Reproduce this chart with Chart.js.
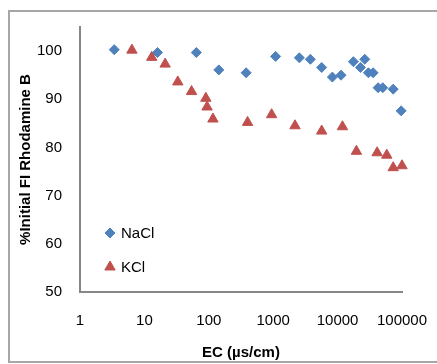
<!DOCTYPE html>
<html>
<head>
<meta charset="utf-8">
<script src="https://cdn.jsdelivr.net/npm/chart.js@4/dist/chart.umd.min.js"></script>
<style>
  html, body { margin: 0; padding: 0; background: #fff; }
  #wrap { width: 437px; height: 364px; }
</style>
</head>
<body>
<div id="wrap"><canvas id="scatterChart" width="437" height="364"></canvas></div>
<script>
// NaCl series (EC in µs/cm, % initial FI)
var naclEC = [3.4, 16, 64, 143, 380, 1090, 2550, 3780, 5660, 8300, 11300, 17600, 22600, 26400, 30100, 35600, 42600, 50300, 73000, 97000];
var naclFI = [100.3, 99.7, 99.7, 96.1, 95.5, 98.9, 98.6, 98.3, 96.6, 94.6, 95.0, 97.8, 96.6, 98.3, 95.5, 95.5, 92.4, 92.4, 92.1, 87.6];

// KCl series
var kclEC = [6.4, 13, 21, 33, 54, 90, 94, 116, 400, 945, 2180, 5660, 11900, 19600, 41100, 58000, 73000, 100000];
var kclFI = [100.2, 98.7, 97.3, 93.6, 91.6, 90.2, 88.4, 85.9, 85.2, 86.8, 84.5, 83.4, 84.3, 79.2, 78.9, 78.4, 75.8, 76.2];

var xTicks = [1, 10, 100, 1000, 10000, 100000];
var yTicks = [50, 60, 70, 80, 90, 100];

var blue = '#4F81BD';
var red = '#C0504D';
var axisGray = '#868686';
var font = 'Liberation Sans';

function toPoints(xs, ys) {
  return xs.map(function (x, i) { return { x: x, y: ys[i] }; });
}

// outer frame like the Excel chart border
var framePlugin = {
  id: 'frame',
  beforeDraw: function (chart) {
    var ctx = chart.ctx;
    ctx.save();
    ctx.strokeStyle = '#a6a6a6';
    ctx.lineWidth = 2;
    ctx.strokeRect(9, 11, 440, 351);
    ctx.restore();
  }
};

// legend drawn inside the plot, lower left
var legendPlugin = {
  id: 'insideLegend',
  afterDraw: function (chart) {
    var ctx = chart.ctx;
    var rows = [233, 267];
    ctx.save();
    ctx.font = '15px "' + font + '"';
    ctx.textBaseline = 'middle';
    chart.data.datasets.forEach(function (ds, i) {
      var y = rows[i];
      ctx.fillStyle = ds.backgroundColor;
      ctx.strokeStyle = ds.borderColor;
      ctx.lineWidth = 1;
      Chart.helpers.drawPoint(ctx, { pointStyle: ds.pointStyle, radius: ds.pointRadius, borderWidth: 1 }, 110, y);
      ctx.fillStyle = '#000';
      ctx.fillText(ds.label, 121, y + 1);
    });
    ctx.restore();
  }
};

var ctxS = document.getElementById('scatterChart').getContext('2d');
var myScatter = new Chart(ctxS, {
  type: 'scatter',
  data: {
    datasets: [{
        label: 'NaCl',
        data: toPoints(naclEC, naclFI),
        pointStyle: 'rectRot',
        pointRadius: 5,
        backgroundColor: blue,
        borderColor: blue,
        borderWidth: 1,
        clip: false
      },
      {
        label: 'KCl',
        data: toPoints(kclEC, kclFI),
        pointStyle: 'triangle',
        pointRadius: 6,
        backgroundColor: red,
        borderColor: red,
        borderWidth: 1,
        clip: false
      }
    ]
  },
  options: {
    responsive: false,
    animation: false,
    layout: { padding: { left: 0, top: 26, right: 35, bottom: 0 } },
    plugins: {
      legend: { display: false },
      tooltip: { enabled: false }
    },
    scales: {
      x: {
        type: 'logarithmic',
        min: 1,
        max: 100000,
        afterBuildTicks: function (scale) {
          scale.ticks = xTicks.map(function (v) { return { value: v }; });
        },
        afterFit: function (scale) {
          scale.height = 72;
          scale.paddingLeft = 0;
          scale.paddingRight = 0;
        },
        grid: { display: false, drawTicks: false },
        border: { display: true, color: axisGray, width: 2 },
        ticks: {
          padding: 20,
          color: '#000',
          font: { family: font, size: 15 },
          maxRotation: 0,
          autoSkip: false,
          callback: function (v) { return String(v); }
        },
        title: {
          display: true,
          text: 'EC (µs/cm)',
          color: '#000',
          font: { family: font, size: 15, weight: 'bold' },
          padding: { top: 0, bottom: 2 }
        }
      },
      y: {
        min: 50,
        max: 105,
        afterBuildTicks: function (scale) {
          scale.ticks = yTicks.map(function (v) { return { value: v }; });
        },
        afterFit: function (scale) { scale.width = 80; },
        grid: { display: false, drawTicks: false },
        border: { display: true, color: axisGray, width: 2 },
        ticks: {
          padding: 18,
          color: '#000',
          font: { family: font, size: 15 }
        },
        title: {
          display: true,
          text: '%Initial FI Rhodamine B',
          color: '#000',
          font: { family: font, size: 15, weight: 'bold' },
          padding: { top: 17, bottom: 0 }
        }
      }
    }
  },
  plugins: [framePlugin, legendPlugin]
});
</script>
</body>
</html>
